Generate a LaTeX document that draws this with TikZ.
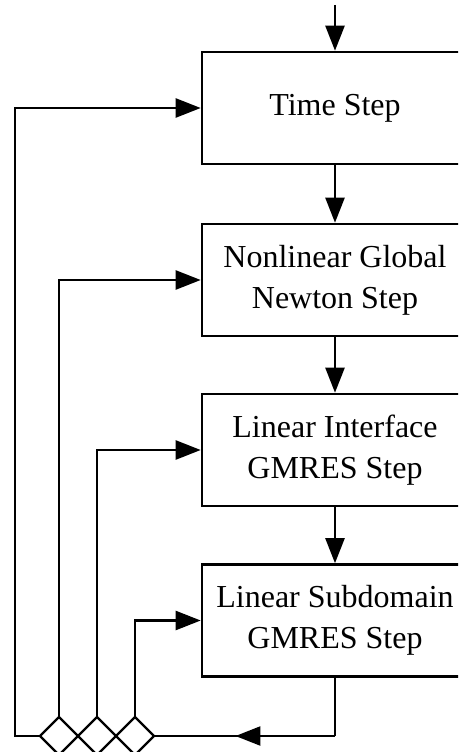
\documentclass[tikz,border=0pt]{standalone}
\usepackage{fontspec}
\setmainfont{Liberation Serif}
\usetikzlibrary{arrows.meta,shapes.geometric,decorations.markings}
\begin{document}
\begin{tikzpicture}[x=1pt,y=-1pt,
  line width=2.4pt,
  box/.style={draw, line width=2.6pt, minimum width=266pt, minimum height=112pt,
    inner sep=0pt, align=center, font=\fontsize{32}{41}\selectfont},
  dia/.style={draw, diamond, line width=2.4pt, minimum width=38pt, minimum height=38pt, inner sep=0pt, outer sep=0pt},
  arr/.style={-{Triangle[length=25pt,width=19pt]}},
  midarrow/.style={postaction={decorate}, decoration={markings,
    mark=at position 0.55 with {\arrow{Triangle[length=25pt,width=19pt]}}}}
]
\useasboundingbox (0,0) rectangle (458,752);
\clip (0,0) rectangle (458,752);
\node[box] (b1) at (335,108) {Time Step};
\node[box] (b2) at (335,280) {Nonlinear Global\\Newton Step};
\node[box] (b3) at (335,450) {Linear Interface\\GMRES Step};
\node[box] (b4) at (335,620.5) {Linear Subdomain\\GMRES Step};
\node[dia] (d1) at (59,736) {};
\node[dia] (d2) at (97,736) {};
\node[dia] (d3) at (135,736) {};
\coordinate (top) at (335,5);
\coordinate (L) at (15,736);
\coordinate (fb) at (335,736);
\draw[arr] (top) -- (b1.north);
\draw[arr] (b1.south) -- (b2.north);
\draw[arr] (b2.south) -- (b3.north);
\draw[arr] (b3.south) -- (b4.north);
\draw (b4.south) -- (fb);
\draw[midarrow] (fb) -- (d3.east);
\draw[arr] (d1.west) -- (L) |- (b1.west);
\draw[arr] (d1.north) |- (b2.west);
\draw[arr] (d2.north) |- (b3.west);
\draw[arr] (d3.north) |- (b4.west);
\end{tikzpicture}
\end{document}
